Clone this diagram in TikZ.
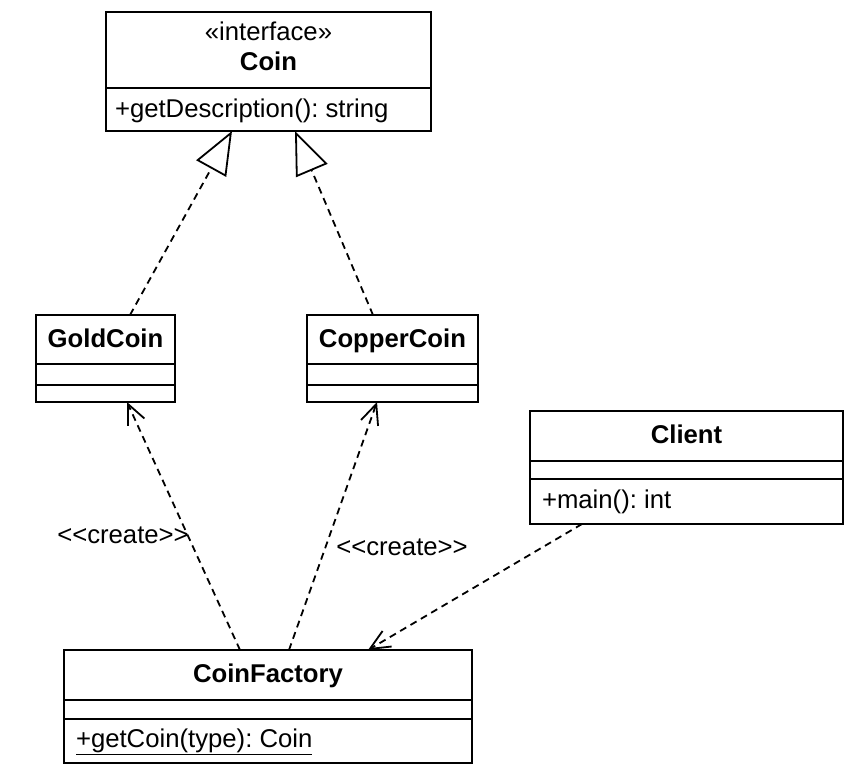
\documentclass[tikz,border=0pt]{standalone}
\usepackage{fontspec}
\setmainfont{Liberation Sans}
\usetikzlibrary{arrows.meta}
\frenchspacing
\begin{document}
\begin{tikzpicture}[x=1pt,y=-1pt,
  every node/.style={font=\fontsize{25.7}{30}\selectfont, inner sep=0pt, outer sep=0pt},
  umlbox/.style={draw, line width=1.8pt, rectangle},
  divider/.style={line width=1.8pt},
  lbl/.style={anchor=base west},
  ttl/.style={anchor=base, font=\fontsize{25.7}{30}\selectfont\bfseries},
  stereo/.style={anchor=base},
  dep/.style={line width=1.8pt, dash pattern=on 7pt off 5pt},
  realize/.style={dep, -{Triangle[open, length=43pt, width=34pt, line width=1.8pt]}},
  usearrow/.style={dep, -{Straight Barb[length=20pt, width=18pt, line width=1.8pt]}}
]
\useasboundingbox (0,0) rectangle (853,777);

% Coin interface
\node[umlbox, minimum width=325pt, minimum height=119pt] (coin) at (268.5,71.5) {};
\draw[divider] (coin.west |- 0,88) -- (coin.east |- 0,88);
\node[stereo] (coinst) at (268.5,40) {«interface»};
\node[ttl] (cointitle) at (268.5,70) {Coin};
\node[lbl] (coinop) at (115,117) {+getDescription(): string};

% GoldCoin
\node[umlbox, minimum width=139pt, minimum height=87pt] (gold) at (105.5,358.5) {};
\draw[divider] (gold.west |- 0,364) -- (gold.east |- 0,364);
\draw[divider] (gold.west |- 0,385) -- (gold.east |- 0,385);
\node[ttl] (goldtitle) at (105.5,347.5) {GoldCoin};

% CopperCoin
\node[umlbox, minimum width=171pt, minimum height=87pt] (copper) at (392.5,358.5) {};
\draw[divider] (copper.west |- 0,364) -- (copper.east |- 0,364);
\draw[divider] (copper.west |- 0,385) -- (copper.east |- 0,385);
\node[ttl] (coppertitle) at (392.5,347.5) {CopperCoin};

% Client
\node[umlbox, minimum width=313pt, minimum height=113pt] (client) at (686.5,467.5) {};
\draw[divider] (client.west |- 0,461) -- (client.east |- 0,461);
\draw[divider] (client.west |- 0,479) -- (client.east |- 0,479);
\node[ttl] (clienttitle) at (686.5,443.3) {Client};
\node[lbl] (clientop) at (542,508) {+main(): int};

% CoinFactory
\node[umlbox, minimum width=408pt, minimum height=113pt] (factory) at (268,706.5) {};
\draw[divider] (factory.west |- 0,700) -- (factory.east |- 0,700);
\draw[divider] (factory.west |- 0,719) -- (factory.east |- 0,719);
\node[ttl] (factorytitle) at (268,682.7) {CoinFactory};
\node[lbl] (factoryop) at (76,747) {\underline{+getCoin(type): Coin}};

% realizations
\draw[realize] ([xshift=24.5pt]gold.north) -- ([xshift=-36.5pt]coin.south);
\draw[realize] ([xshift=-19.5pt]copper.north) -- ([xshift=26.5pt]coin.south);

% create dependencies
\draw[usearrow] ([xshift=-28pt]factory.north) -- ([xshift=21.5pt]gold.south);
\draw[usearrow] ([xshift=21pt]factory.north) -- ([xshift=-15.5pt]copper.south);
\draw[usearrow] ([xshift=-104.5pt]client.south) -- ([xshift=100pt]factory.north);

\node[anchor=base] (create1) at (123,543) {<{}<create>{}>};
\node[anchor=base] (create2) at (402,555) {<{}<create>{}>};
\end{tikzpicture}
\end{document}
